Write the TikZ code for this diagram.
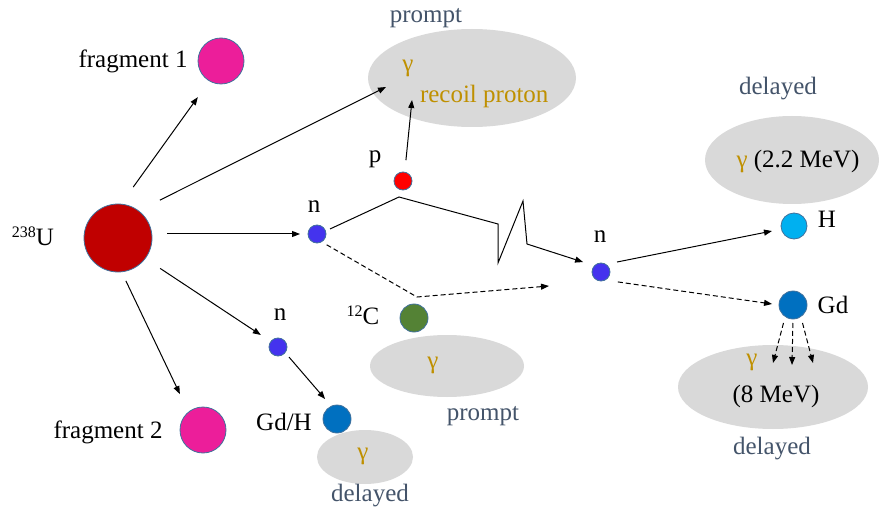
\documentclass[tikz,border=0pt]{standalone}
\usepackage{fontspec}
\setmainfont{Liberation Serif}
\usetikzlibrary{arrows.meta,shapes.geometric}
\definecolor{ballborder}{HTML}{41719C}
\definecolor{cloudgrey}{HTML}{D9D9D9}
\definecolor{notecol}{HTML}{44546A}
\definecolor{gold}{HTML}{BF9000}
\definecolor{uraniumred}{HTML}{C00000}
\definecolor{fragpink}{HTML}{EC1E9A}
\definecolor{neutronblue}{HTML}{4433EE}
\definecolor{protonred}{HTML}{FF0000}
\definecolor{carbongreen}{HTML}{548235}
\definecolor{gdblue}{HTML}{0070C0}
\definecolor{hblue}{HTML}{00B0F0}
\newcommand{\supnum}[1]{\raisebox{0.62ex}{\fontsize{16}{16}\selectfont #1}}
\begin{document}
\begin{tikzpicture}[x=1pt,y=-1pt,
  every node/.style={font=\fontsize{25}{29}\selectfont, inner sep=0pt, outer sep=0pt},
  ball/.style={circle, draw=ballborder, line width=0.8pt, inner sep=0pt, minimum size=#1},
  cloud/.style={ellipse, fill=cloudgrey, inner sep=0pt},
  lbl/.style={anchor=base, text=black},
  note/.style={anchor=base, text=notecol},
  gam/.style={text=gold},
  arr/.style={line width=1pt, -{Triangle[length=8pt,width=6pt]}},
  darr/.style={arr, dash pattern=on 5pt off 3pt},
]
\useasboundingbox (0,0) rectangle (879,508);

% clouds
\node[cloud, minimum width=208pt, minimum height=98pt] (pe) at (472,78) {};
\node[cloud, minimum width=174pt, minimum height=88pt] (he) at (792,160) {};
\node[cloud, minimum width=154pt, minimum height=62pt] (ce) at (447,366) {};
\node[cloud, minimum width=96pt, minimum height=54pt] (ge) at (365,457) {};
\node[cloud, minimum width=190pt, minimum height=84pt] (de) at (773,387) {};

% particles
\node[ball=68pt, fill=uraniumred] (U) at (118,238) {};
\node[ball=46pt, fill=fragpink] (F1) at (221,61) {};
\node[ball=46pt, fill=fragpink] (F2) at (203,430) {};
\node[ball=18pt, fill=neutronblue] (n1) at (317,234) {};
\node[ball=18pt, fill=protonred] (p) at (403,181) {};
\node[ball=18pt, fill=neutronblue] (n2) at (278,347) {};
\node[ball=28pt, fill=carbongreen] (C) at (414,318) {};
\node[ball=28pt, fill=gdblue] (GdH) at (337,419) {};
\node[ball=18pt, fill=neutronblue] (n3) at (601,272) {};
\node[ball=26pt, fill=hblue] (H) at (794,226) {};
\node[ball=28pt, fill=gdblue] (Gd) at (793,305) {};

% labels
\node[lbl] (tU) at (33,245) {\supnum{238}U};
\node[lbl] (tF1) at (133,68) {fragment 1};
\node[lbl] (tF2) at (108,438) {fragment 2};
\node[lbl] (tn1) at (314,213) {n};
\node[lbl] (tp) at (375,163) {p};
\node[lbl] (tn2) at (280,320) {n};
\node[lbl] (tC) at (363,324) {\supnum{12}C};
\node[lbl] (tGdH) at (284,430) {Gd/H};
\node[lbl] (tn3) at (600,243) {n};
\node[lbl] (tH) at (827,228) {H};
\node[lbl] (tGd) at (833,313) {Gd};
\node[note] (pr1) at (426,23) {prompt};
\node[note] (dl1) at (778,95) {delayed};
\node[note] (pr2) at (483,420) {prompt};
\node[note] (dl2) at (772,454) {delayed};
\node[note] (dl3) at (370,501) {delayed};
\node[gam] (ga) at (408,68) {γ};
\node[anchor=base west, text=gold] (rec) at (420,103) {recoil proton};
\node[anchor=base] (e22) at (798,168) {\textcolor{gold}{γ} (2.2 MeV)};
\node[gam] (gc) at (433,365) {γ};
\node[gam] (gg) at (363,456) {γ};
\node[gam] (gd) at (752,362) {γ};
\node[lbl] (e8) at (776,402) {(8 MeV)};

% helper coordinates
\coordinate (pein) at (386,87);
\coordinate (rp) at (412,100);
\coordinate (z1) at (399,197);
\coordinate (z2) at (498,224);
\coordinate (z3) at (498,263);
\coordinate (z4) at (523,201);
\coordinate (z5) at (527,244);
\coordinate (cbend) at (417,297);
\coordinate (cend) at (549,286);
\coordinate (g1) at (773,363);
\coordinate (g2) at (792,365);
\coordinate (g3) at (813,363);

% connectors
\draw[arr, shorten <=21pt, shorten >=20pt] (U.85) -- (F1.240);
\draw[arr, shorten <=24pt] (U.53) -- (pein);
\draw[arr, shorten <=15pt, shorten >=8pt] (U.east |- n1) -- (n1);
\draw[arr, shorten <=18pt, shorten >=12pt] (U.-37) -- (n2.143);
\draw[arr, shorten <=10pt, shorten >=20pt] (U.-84) -- (F2.129);
\draw[arr, shorten <=6pt, shorten >=9.5pt] (n2.-38) -- (GdH.114);
\draw[arr, shorten <=12pt] (p.79) -- (rp);
\draw[arr, shorten <=5pt, shorten >=12pt] (n1.19) -- (z1) -- (z2) -- (z3) -- (z4) -- (z5) -- (n3.136);
\draw[darr, shorten <=6pt] (n1.-60) -- (cbend) -- (cend);
\draw[arr, shorten <=11.6pt, shorten >=9.6pt] (n3.59) -- (H.194);
\draw[darr, shorten <=13pt, shorten >=7pt] (n3.-64) -- (Gd.180);
\draw[darr, shorten <=6.6pt] (Gd.-124) -- (g1);
\draw[darr, shorten <=4pt] (Gd.-90) -- (g2);
\draw[darr, shorten <=6.6pt] (Gd.-56) -- (g3);
\end{tikzpicture}
\end{document}
